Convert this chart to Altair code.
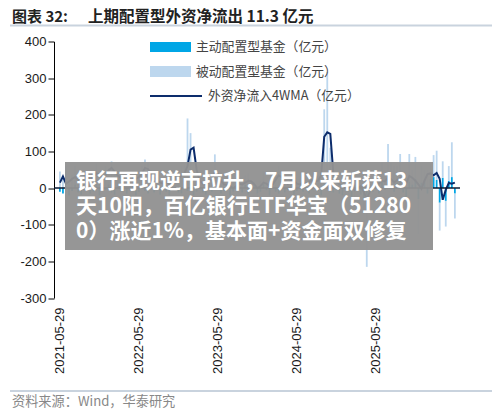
import altair as alt
import pandas as pd

# ---------------- data ----------------
SERIES = ["主动配置型基金（亿元）", "被动配置型基金（亿元）", "外资净流入4WMA（亿元）"]
COLORS = ["#00A6E6", "#BDD7EE", "#0D2D6C"]
DATE_LABELS = ["2021-05-29", "2022-05-29", "2023-05-29", "2024-05-29", "2025-05-29"]
TICK_IDX = [0, 26, 52, 78, 104]
Y_TICKS = [-300, -200, -100, 0, 100, 200, 300, 400]

active = [
    -10, -15, 5, -20, -8, 10, -12, -18, -5, 8,
    -15, -10, 12, -20, -8, -5, 10, -12, -18, 5,
    -10, 8, -15, -6, 12, -20, -10, 5, -8, -15,
    10, -12, -5, -18, 6, -10, -20, 8, -6, -12,
    -15, 10, -8, 15, -20, -10, 5, -12, -18, 8,
    -10, -5, 12, -15, -8, 6, -20, -10, 8, -6,
    -12, 10, -18, -5, 8, -15, -10, 12, -6, -20,
    5, -10, -15, 8, -12, -5, 10, -18, -8, 6,
    -10, 12, -15, -6, 10, -8, -20, 15, 20, -10,
    -12, 8, -15, -20, 5, -10, -25, 10, -8, -18,
    -30, -20, 12, -10, 8, -15, 20, -5, 25, 10,
    -10, 15, 20, -12, -25, 18, 10, 25, -30, 15,
    20, -15, 25, 30, 22, -40, 28, -35, 20, 30, -15,
]
passive = [
    45, 30, 55, 20, 35, 50, 40, 25, 48, 38,
    30, 42, 55, 35, 28, 60, 45, 73, 50, 30,
    25, 40, 35, 45, 30, 20, 38, 55, 78, 70,
    40, 25, 30, 15, 20, 35, 10, 25, 30, 45,
    60, 50, 190, 135, 40, 25, 10, 20, 15, 30,
    45, 92, 30, 20, 10, 25, 15, -10, 20, 30,
    15, 25, 40, 20, 10, -15, 20, 35, 15, 10,
    25, 45, 60, 30, 20, 15, 35, 25, 10, 20,
    30, 15, 25, 40, 20, 35, 60, 200, 297, 110,
    40, 20, 10, 30, -20, 15, 25, -30, 10, 20,
    -40, -195, 30, 15, 40, 25, 50, 35, 95, 60,
    60, 45, 73, 30, -50, 75, 40, 60, -95, 45,
    30, 50, 40, 60, 80, -76, 45, -70, 40, 95, -68,
]
wma = [
    15, 32, 12, 18, 25, 30, 22, 28, 35, 30,
    25, 30, 40, 38, 30, 35, 48, 55, 45, 35,
    28, 30, 32, 35, 30, 25, 30, 40, 55, 52,
    40, 28, 22, 15, 12, 18, 10, 12, 18, 25,
    35, 40, 60, 105, 110, 50, 20, 12, 8, 15,
    25, 45, 40, 20, 10, 8, 5, 0, 5, 12,
    10, 15, 20, 18, 10, 0, 5, 15, 12, 5,
    10, 22, 35, 30, 18, 12, 20, 22, 12, 10,
    15, 12, 15, 22, 18, 20, 35, 140, 152, 148,
    40, 20, 10, 8, 0, 5, 10, -5, 0, 5,
    -10, -30, -10, 5, 15, 12, 20, 18, 30, 25,
    15, 22, 28, 20, 12, 33, 28, 20, 10, -2,
    20, 38, 40, 35, 41, 25, -32, -5, 14, 12, 15,
]

TITLE_A = "图表 32:"
TITLE_B = "上期配置型外资净流出 11.3 亿元"
SOURCE = "资料来源：Wind，华泰研究"
BANNER = [
    "银行再现逆市拉升，7月以来斩获13",
    "天10阳，百亿银行ETF华宝（51280",
    "0）涨近1%，基本面+资金面双修复",
]

n = len(wma)
idx = list(range(n))
bars_df = pd.DataFrame({
    "i": idx + idx,
    "v": active + passive,
    "s": [SERIES[0]] * n + [SERIES[1]] * n,
    "o": [0] * n + [1] * n,
})
line_df = pd.DataFrame({"i": idx, "v": wma})

CJK = "Noto Sans CJK SC"
LAT = "Liberation Sans"

label_arr = "[" + ",".join("'%s'" % d for d in DATE_LABELS) + "]"
xscale = alt.Scale(domain=[-0.3, n - 0.3], nice=False, zero=False)
yscale = alt.Scale(domain=[-300, 400], nice=False)

x_axis = alt.Axis(
    values=TICK_IDX, labelExpr=label_arr + "[round(datum.value/26)]",
    labelAngle=270, domain=False, ticks=False, grid=False, labelPadding=9,
    labelFontSize=13, labelFont=LAT, labelColor="#1a1a1a", title=None,
    labelOverlap=False)
y_axis = alt.Axis(
    values=Y_TICKS, labelExpr="'' + datum.value", tickSize=6,
    domainColor="#000", tickColor="#000", labelOverlap=False,
    labelFontSize=13, labelFont=LAT, labelColor="#1a1a1a", grid=False,
    title=None, labelPadding=2)

bars = alt.Chart(bars_df).mark_bar(size=1.8).encode(
    x=alt.X("i:Q", scale=xscale, axis=x_axis),
    y=alt.Y("v:Q", stack="zero", scale=yscale, axis=y_axis),
    color=alt.Color("s:N", scale=alt.Scale(domain=SERIES[:2], range=COLORS[:2]), legend=None),
    order=alt.Order("o:Q"),
)
line = alt.Chart(line_df).mark_line(color=COLORS[2], strokeWidth=2).encode(
    x=alt.X("i:Q", scale=xscale, axis=x_axis),
    y=alt.Y("v:Q", scale=yscale, axis=y_axis))

one = pd.DataFrame({"k": [0]})
zero = alt.Chart(one).mark_rule(color="#0A1A33", strokeWidth=1.5).encode(
    y=alt.Y(datum=0, scale=yscale, axis=y_axis), x=alt.value(0), x2=alt.value(406))

def rect(x, x2, y, y2, color, opacity=1.0):
    return alt.Chart(one).mark_rect(color=color, opacity=opacity).encode(
        x=alt.value(x), x2=alt.value(x2), y=alt.value(y), y2=alt.value(y2))

def hrule(x, x2, y, color, w):
    return alt.Chart(one).mark_rule(color=color, strokeWidth=w).encode(
        x=alt.value(x), x2=alt.value(x2), y=alt.value(y))

def text(t, x, y, size, color, weight="normal", font=CJK):
    return alt.Chart(one).mark_text(text=t, align="left", baseline="middle",
                                    fontSize=size, font=font, fontWeight=weight,
                                    color=color).encode(x=alt.value(x), y=alt.value(y))

legend = [
    rect(96, 137, 0.5, 10.5, COLORS[0]),
    text(SERIES[0], 142, 5.5, 12.8, "#444"),
    rect(96, 137, 24.5, 35.5, COLORS[1]),
    text(SERIES[1], 142, 30, 12.8, "#444"),
    hrule(96, 148, 54.5, COLORS[2], 2),
    text(SERIES[2], 154, 54.5, 12.8, "#444"),
]

banner = [rect(11, 379, 120.5, 208.5, "#929292", 0.96)] + [
    text(t, 22, 140.5 + 25 * k, 21, "#ffffff", "bold") for k, t in enumerate(BANNER)
]

frame = [
    text(TITLE_A, -42, -24.5, 15, "#222", "bold"),
    text(TITLE_B, 34, -24.5, 15.5, "#222", "bold"),
    hrule(-44, 438, -16, "#C9D3DE", 2),
    hrule(-44, 438, 349.5, "#C9D3DE", 2),
    text(SOURCE, -42, 360.5, 13.2, "#888"),
]

chart = alt.layer(bars, line, zero, *legend, *banner, *frame).properties(
    width=408, height=256.5,
    padding={"left": 46, "top": 33.5, "right": 30, "bottom": 115},
    autosize=alt.AutoSizeParams(type="none"),
).configure_view(stroke=None)

chart.save("out.html", embed_options={"renderer": "svg", "actions": False})
